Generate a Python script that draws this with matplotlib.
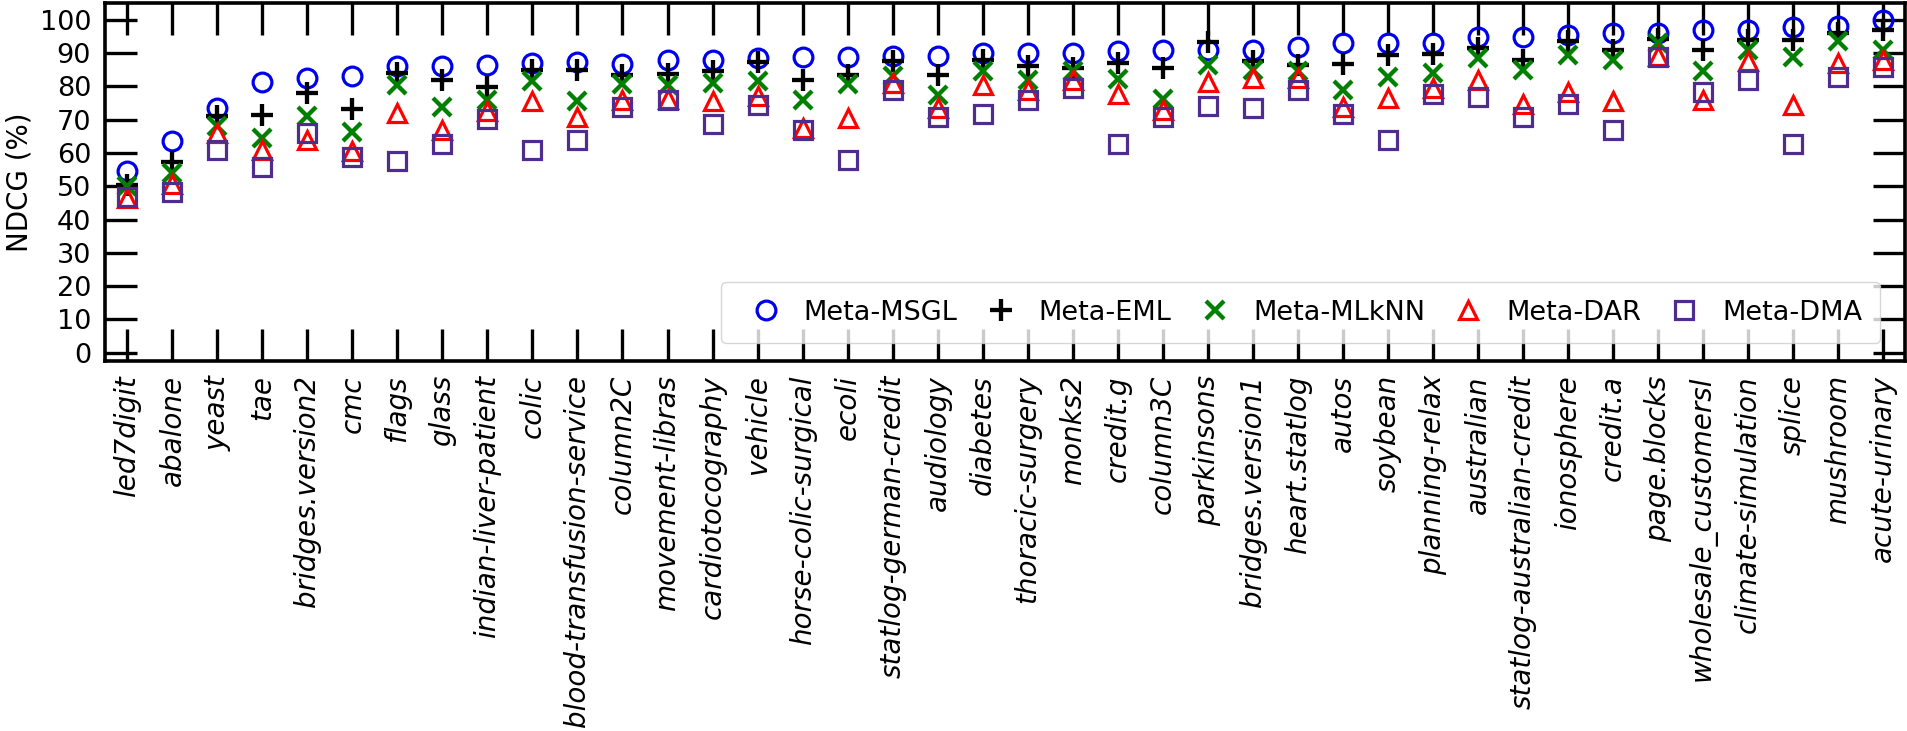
import numpy as np
import matplotlib
matplotlib.use('Agg')
import matplotlib.pyplot as plt

datasets = ['led7digit', 'abalone', 'yeast', 'tae', 'bridges.version2', 'cmc',
            'flags', 'glass', 'indian-liver-patient', 'colic',
            'blood-transfusion-service', 'column2C', 'movement-libras',
            'cardiotocography', 'vehicle', 'horse-colic-surgical', 'ecoli',
            'statlog-german-credit', 'audiology', 'diabetes', 'thoracic-surgery',
            'monks2', 'credit.g', 'column3C', 'parkinsons', 'bridges.version1',
            'heart.statlog', 'autos', 'soybean', 'planning-relax', 'australian',
            'statlog-australian-credit', 'ionosphere', 'credit.a', 'page.blocks',
            'wholesale_customersl', 'climate-simulation', 'splice', 'mushroom',
            'acute-urinary']

msgl = [54.5, 63.5, 73.5, 81.2, 82.5, 83.0, 86.0, 86.0, 86.5, 87.0,
        87.2, 86.8, 87.8, 87.8, 88.5, 88.8, 88.8, 89.2, 89.2, 90.0,
        90.0, 90.0, 90.5, 90.8, 90.8, 91.0, 91.8, 93.0, 93.0, 93.0,
        94.8, 94.8, 95.3, 96.0, 96.0, 97.0, 97.0, 97.8, 98.2, 100.0]
eml = [50.5, 57.3, 71.0, 71.3, 78.0, 73.2, 84.0, 82.0, 79.8, 85.0,
       85.0, 83.5, 83.8, 84.5, 87.2, 81.8, 83.5, 87.5, 83.5, 87.8,
       86.0, 85.5, 87.0, 85.5, 93.2, 87.5, 86.5, 86.8, 89.5, 89.8,
       91.5, 88.0, 93.5, 90.8, 94.2, 90.8, 94.0, 93.8, 96.0, 97.0]
mlknn = [50.0, 54.0, 68.0, 64.5, 71.0, 66.3, 80.5, 73.8, 76.0, 81.7,
         75.7, 80.8, 80.5, 81.0, 81.5, 75.8, 80.8, 83.2, 77.5, 84.5,
         82.0, 84.7, 82.2, 76.2, 86.5, 85.0, 84.5, 79.0, 82.8, 84.0,
         88.5, 85.0, 89.5, 87.8, 93.0, 84.7, 91.0, 88.8, 93.5, 90.8]
dar = [46.5, 50.8, 66.0, 60.8, 63.8, 60.5, 72.0, 67.0, 72.5, 75.7,
       70.7, 76.0, 76.2, 75.5, 77.0, 67.5, 70.5, 81.0, 73.5, 80.5,
       79.0, 82.0, 77.8, 73.0, 81.2, 82.5, 82.5, 73.8, 76.5, 79.5,
       82.0, 74.8, 78.2, 75.5, 89.2, 75.8, 87.5, 74.5, 87.0, 87.8]
dma = [46.8, 48.3, 60.8, 55.8, 66.0, 58.8, 57.5, 62.8, 70.3, 60.8,
       63.8, 73.8, 75.8, 68.8, 74.3, 66.8, 57.8, 78.8, 70.8, 71.8,
       75.8, 79.5, 62.8, 70.8, 74.2, 73.5, 79.0, 71.8, 63.8, 77.8,
       76.8, 70.8, 74.8, 66.8, 88.8, 78.3, 81.8, 62.8, 82.8, 85.8]

x = np.arange(len(datasets))

fig = plt.figure(figsize=(19.08, 7.31), dpi=100)
ax = fig.add_axes([0.055, 0.506, 0.9435, 0.49])

ms = 13.5
mew = 2.3
ax.plot(x, msgl, 'o', ms=ms, mew=mew, mfc='none', mec='#0000ee', label='Meta-MSGL')
ax.plot(x, eml, '+', ms=ms + 2, mew=mew + 0.8, color='black', label='Meta-EML')
ax.plot(x, mlknn, 'x', ms=ms, mew=mew + 0.8, color='green', label='Meta-MLkNN')
ax.plot(x, dar, '^', ms=ms, mew=mew, mfc='none', mec='red', label='Meta-DAR')
ax.plot(x, dma, 's', ms=ms, mew=mew, mfc='none', mec='#4f2d8f', label='Meta-DMA')

ax.set_xlim(-0.5, len(datasets) - 0.5)
ax.set_ylim(-2.5, 105)
ax.set_yticks(np.arange(0, 101, 10))
ax.set_xticks(x)
ax.tick_params(axis='both', direction='in', length=23, width=2.4, pad=10,
               labelsize=19.5, top=True, right=True)
ax.set_xticklabels(datasets, rotation=90, fontstyle='italic', fontsize=20)
for s in ax.spines.values():
    s.set_linewidth(2.6)
ax.set_ylabel('NDCG (%)', fontsize=20)

ax.legend(ncol=5, loc='lower right', bbox_to_anchor=(0.986, 0.05),
          borderaxespad=0, fontsize=19.5, handlelength=2.0, handletextpad=0.4,
          columnspacing=0.6, borderpad=0.65)

plt.savefig('out.png', dpi=100)
